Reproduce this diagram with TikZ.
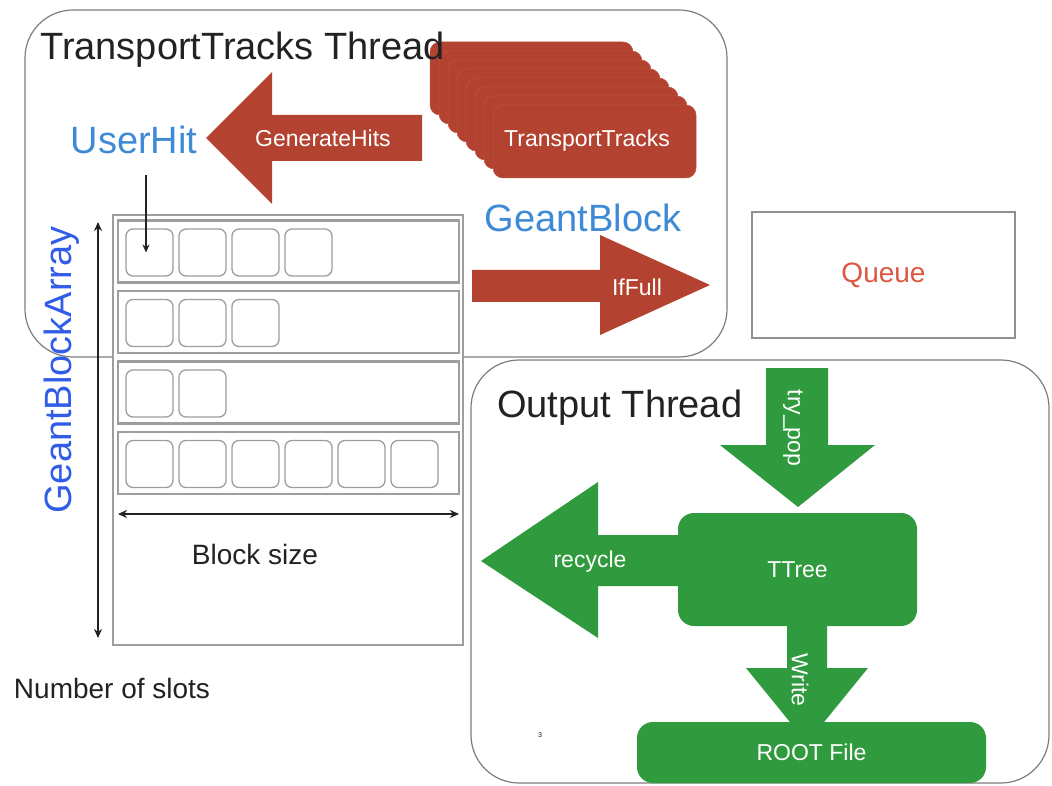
\documentclass[tikz,border=0pt]{standalone}
\usepackage{fontspec}
\setmainfont{Liberation Sans}
\usetikzlibrary{arrows.meta}
\definecolor{rustred}{RGB}{180,66,48}
\definecolor{leafgreen}{RGB}{48,154,62}
\definecolor{hitblue}{RGB}{62,138,214}
\definecolor{arrayblue}{RGB}{48,92,232}
\definecolor{queuered}{RGB}{222,86,64}
\definecolor{framegray}{RGB}{125,125,125}
\definecolor{slotgray}{RGB}{158,158,158}
\definecolor{inkgray}{RGB}{34,34,34}

\tikzset{
  threadbox/.style={draw=framegray, line width=1.2pt, rounded corners=48pt},
  bigtxt/.style={font=\fontsize{38}{42}\selectfont, inner sep=0pt},
  midtxt/.style={font=\fontsize{28}{32}\selectfont, inner sep=0pt, text=inkgray},
  lbl/.style={text=white, font=\fontsize{23}{27}\selectfont, inner sep=0pt},
  trackcard/.style={fill=rustred, draw=rustred!90!white, line width=0.5pt,
    rounded corners=10pt, minimum width=203pt, minimum height=73pt, inner sep=0pt},
  greenbox/.style={fill=leafgreen, rounded corners=16pt, inner sep=0pt,
    text=white, font=\fontsize{23}{27}\selectfont},
  redarrow/.style={fill=rustred},
  greenarrow/.style={fill=leafgreen},
  slotbox/.style={draw=slotgray, line width=1.3pt, rounded corners=7pt,
    minimum width=47pt, minimum height=47pt, inner sep=0pt, fill=white},
  rowbox/.style={draw=slotgray, line width=2.2pt, minimum width=341pt,
    minimum height=62pt, inner sep=0pt},
  dimline/.style={line width=1.6pt, draw=inkgray,
    {Stealth[length=9pt,width=8pt]}-{Stealth[length=9pt,width=8pt]}},
  hitline/.style={line width=1.2pt, draw=inkgray, -{Stealth[length=8pt,width=7pt]}}
}

\begin{document}
\begin{tikzpicture}[x=1pt,y=-1pt]
\useasboundingbox (0,0) rectangle (1052,786);

% thread frames
\draw[threadbox] (25,10) rectangle (727,357);
\draw[threadbox] (471,360) rectangle (1049,783);

% stacked TransportTracks cards
\foreach \i in {0,...,7}
  \node[trackcard] (card\i) at ({531.5+9*\i},{78.5+9*\i}) {};
\node[lbl] (tracks) at (587,141) {TransportTracks};

% GenerateHits arrow
\fill[redarrow] (422,115) -- (272,115) -- (272,72) -- (206,138) -- (272,204)
  -- (272,161) -- (422,161) -- cycle;
\node[lbl] (genhits) at (323,138) {GenerateHits};

% IfFull arrow
\fill[redarrow] (472,270) -- (600,270) -- (600,235) -- (710,285) -- (600,335)
  -- (600,302) -- (472,302) -- cycle;
\node[lbl] (iffull) at (637,287) {IfFull};

% queue
\node[draw=framegray!85, line width=1.5pt, minimum width=263pt, minimum height=126pt,
  text=queuered, font=\fontsize{28}{32}\selectfont] (queue) at (883.5,275) {Queue};

% block array
\node[draw=slotgray, line width=1.5pt, fill=white, minimum width=350pt,
  minimum height=430pt, inner sep=0pt] (array) at (288,430) {};
\foreach \r/\yc/\n in {1/251.5/4, 2/322/3, 3/392.5/2, 4/463/6} {
  \node[rowbox] (row\r) at (288.5,\yc) {};
  \foreach \k in {1,...,\n}
    \node[slotbox] (s\r\k) at ({149.5+53*(\k-1)},{\yc+1}) {};
}

% dimension arrows
\coordinate (bsl) at (118,514);
\coordinate (bsr) at (459,514);
\draw[dimline] (bsl) -- (bsr);
\coordinate (nstop) at (98,222);
\coordinate (nsbot) at (98,638);
\draw[dimline] (nstop) -- (nsbot);
\node[midtxt] (bsize) at (255,554) {Block size};
\node[midtxt] (nslots) at (112,688) {Number of slots};

% labels of the producer thread
\node[bigtxt, text=inkgray, anchor=west] (tthread) at (40,50) {TransportTracks Thread};
\node[bigtxt, text=hitblue] (userhit) at (134,140) {UserHit};
\node[bigtxt, text=hitblue] (gblock) at (583,218) {GeantBlock};
\node[bigtxt, text=arrayblue, rotate=90] (gbarray) at (62,370) {GeantBlockArray};

\coordinate (hittail) at (146,175);
\draw[hitline] (hittail) -- (hittail |- s11.center);

% output thread
\node[greenbox, minimum width=239pt, minimum height=113pt] (ttree) at (797.5,569.5) {TTree};
\node[greenbox, minimum width=349pt, minimum height=61pt] (rootfile) at (811.5,752.5) {ROOT File};

\fill[greenarrow] (766,368) -- (828,368) -- (828,445) -- (875,445) -- (798,507)
  -- (720,445) -- (766,445) -- cycle;
\node[lbl, rotate=-90] (trypop) at (793,428) {try\_pop};

\fill[greenarrow] (678,535) -- (598,535) -- (598,482) -- (481,561) -- (598,638)
  -- (598,586) -- (678,586) -- cycle;
\node[lbl] (recycle) at (590,562) {recycle};

\fill[greenarrow] (787,626) -- (827,626) -- (827,668) -- (868,668) -- (807,743)
  -- (746,668) -- (787,668) -- cycle;
\node[lbl, rotate=-90] (write) at (800,680) {Write};

\node[bigtxt, text=inkgray, anchor=west] (othread) at (497,408) {Output Thread};
\node[font=\fontsize{7}{8}\selectfont, text=inkgray] (pagenum) at (540,735) {3};
\end{tikzpicture}
\end{document}
